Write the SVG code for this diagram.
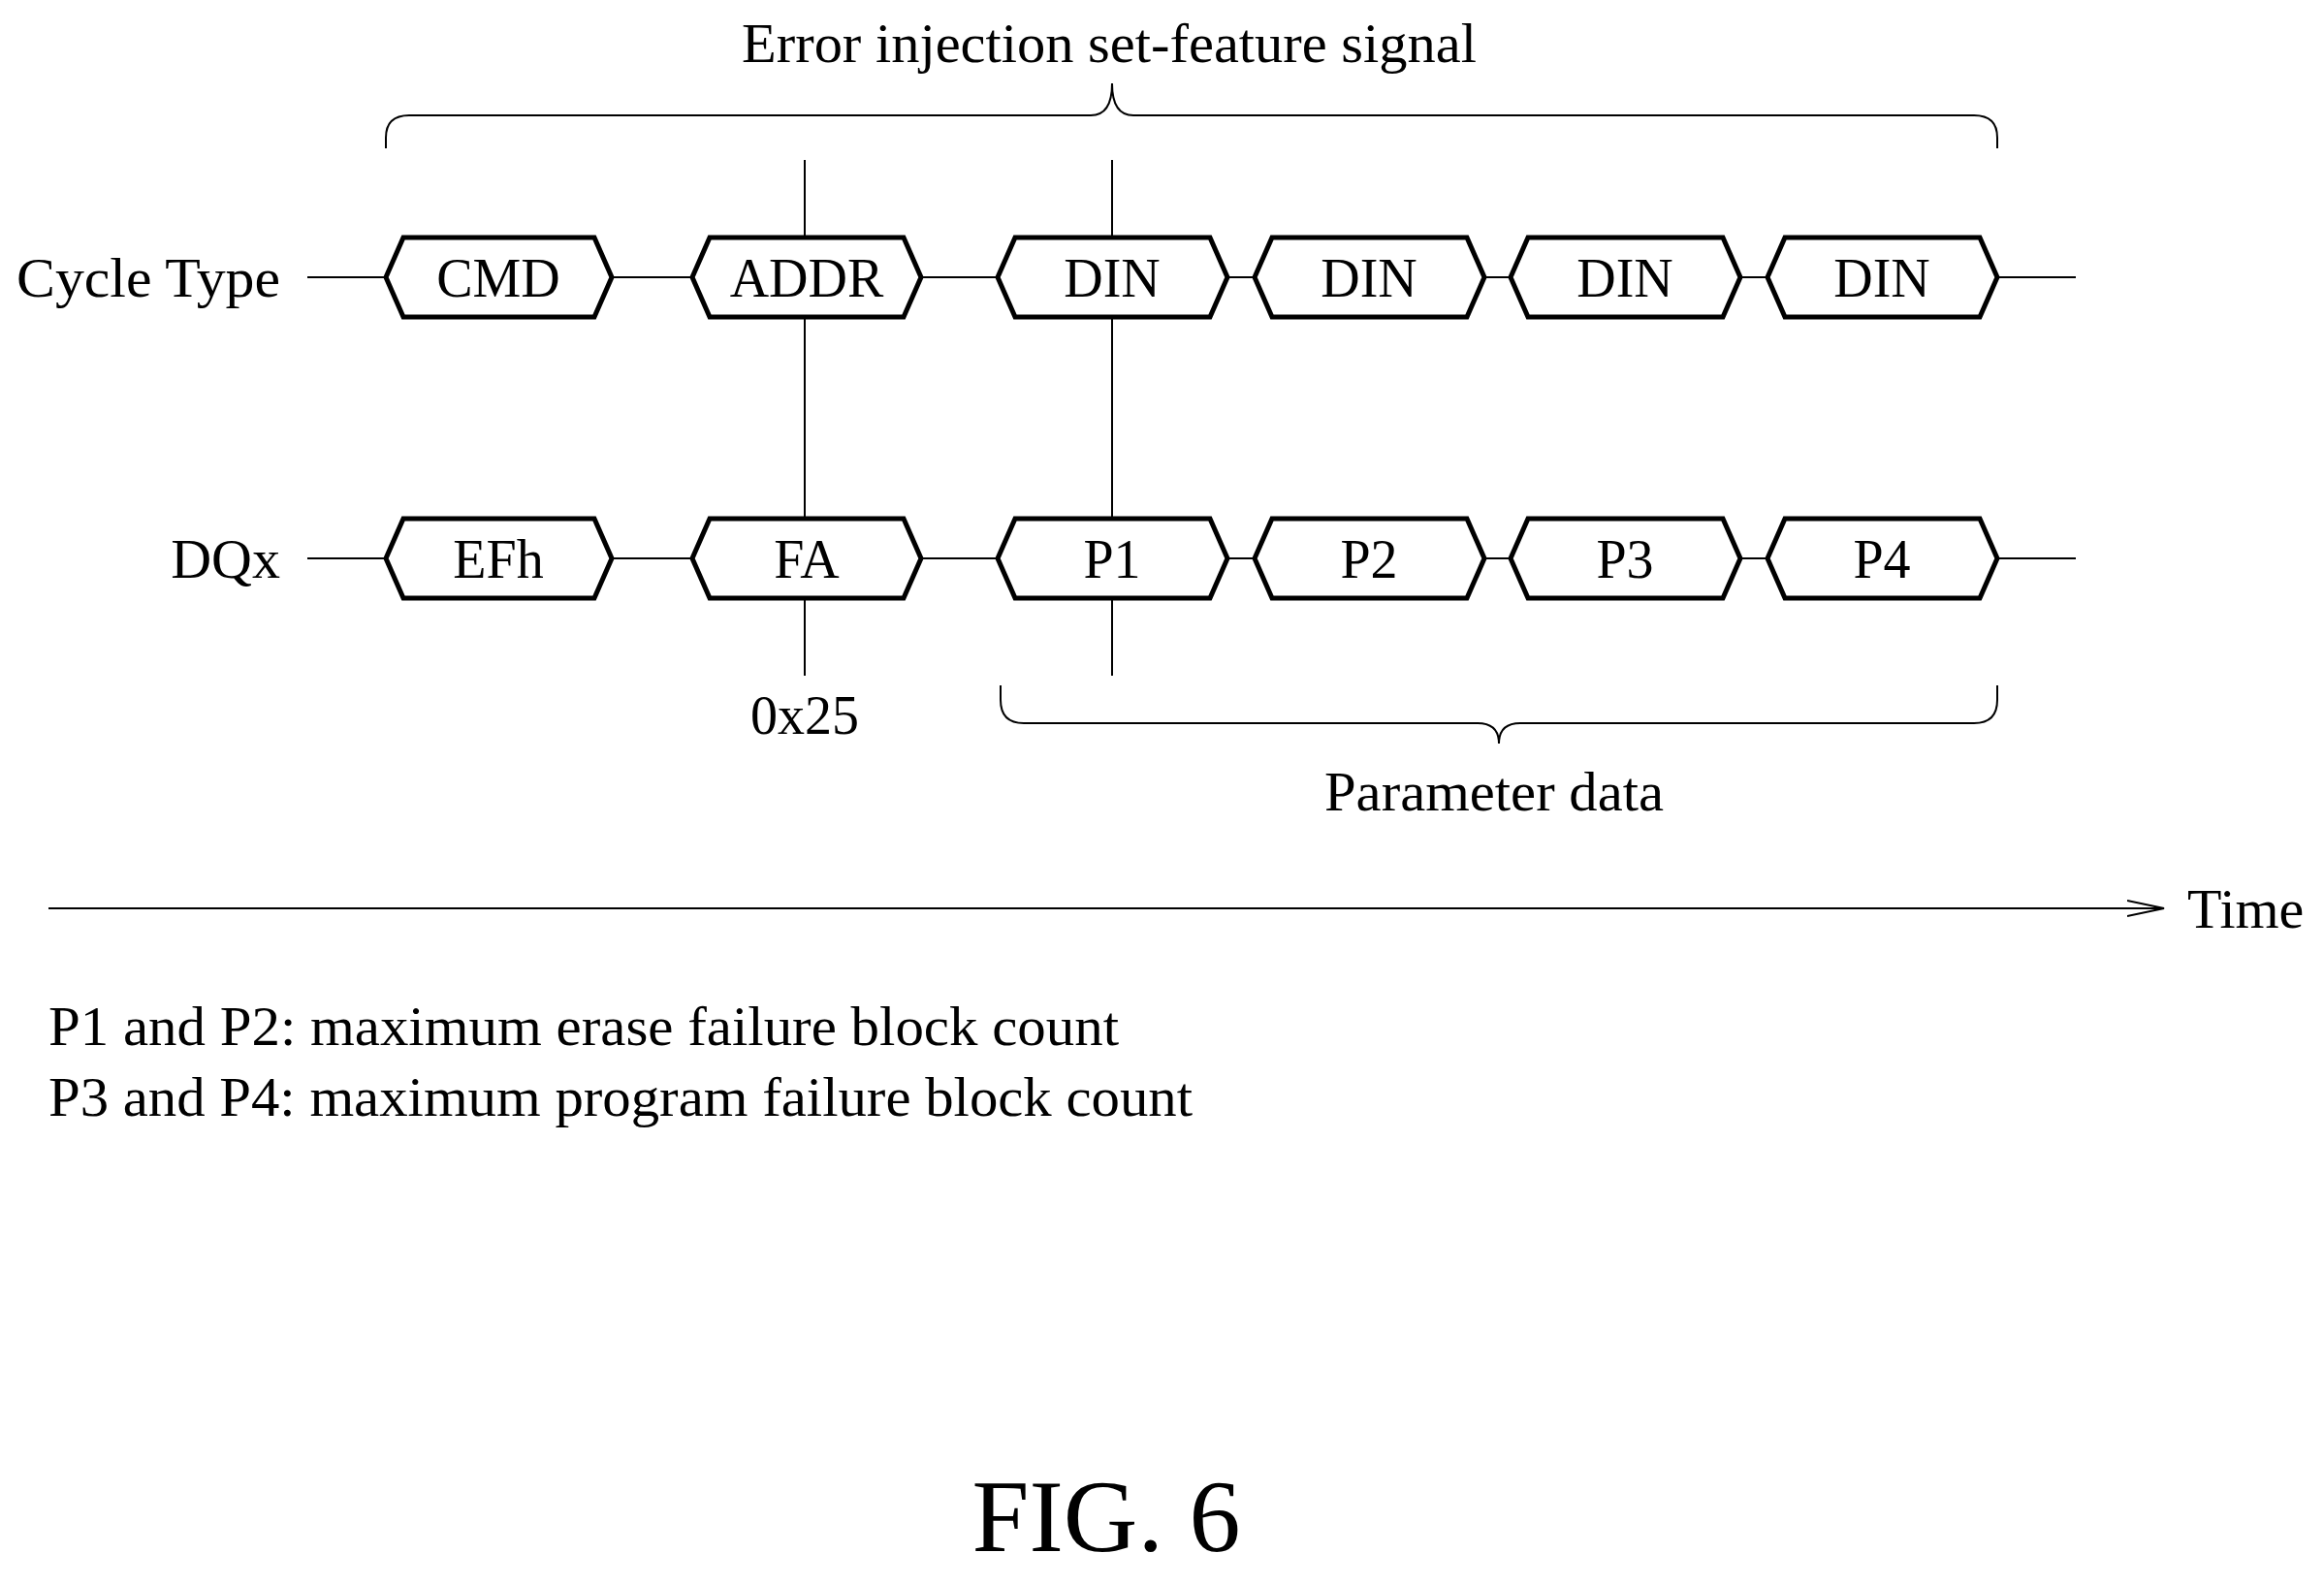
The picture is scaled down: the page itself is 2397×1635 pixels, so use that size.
<svg xmlns="http://www.w3.org/2000/svg" width="2397" height="1635" viewBox="0 0 2397 1635">
<style>
text{font-family:"Liberation Serif",serif;fill:#000}
.t{font-size:56px;text-anchor:middle}
.hex{fill:#fff;stroke:#000;stroke-width:5;stroke-linejoin:miter}
.ln{stroke:#000;stroke-width:2;fill:none}
</style>
<defs>
<marker id="ar" markerWidth="40" markerHeight="20" refX="38" refY="10" orient="auto" markerUnits="userSpaceOnUse">
<path d="M0,2 L38,10 L0,18" fill="none" stroke="#000" stroke-width="2"/>
</marker>
</defs>
<rect width="2397" height="1635" fill="#fff"/>
<text class="t" x="1144" y="64" font-size="60" textLength="758" lengthAdjust="spacingAndGlyphs">Error injection set-feature signal</text>
<g id="connectors">
<path class="ln" d="M398,153 V142 Q398,119 422,119 H1125 Q1147,119 1147,86 Q1147,119 1169,119 H2036 Q2060,119 2060,142 V153"/>
<line class="ln" x1="830" y1="165" x2="830" y2="697"/>
<line class="ln" x1="1147" y1="165" x2="1147" y2="697"/>
<line class="ln" x1="317" y1="286" x2="2141" y2="286"/>
<line class="ln" x1="317" y1="576" x2="2141" y2="576"/>
<path class="ln" d="M1032,707 V722 Q1032,746 1056,746 H1524 Q1546,746 1546,767 Q1546,746 1568,746 H2036 Q2060,746 2060,722 V707"/>
<line class="ln" x1="50" y1="937" x2="2232" y2="937" marker-end="url(#ar)"/>
</g>
<text x="289" y="306" font-size="58" text-anchor="end" textLength="272" lengthAdjust="spacingAndGlyphs">Cycle Type</text>
<text x="289" y="596" font-size="58" text-anchor="end">DQx</text>
<g id="cmd"><path class="hex" d="M398,286 L416,245 H613 L631,286 L613,327 H416Z"/><text class="t" x="514" y="306">CMD</text></g>
<g id="addr"><path class="hex" d="M714,286 L732,245 H932 L950,286 L932,327 H732Z"/><text class="t" x="832" y="306">ADDR</text></g>
<g id="din1"><path class="hex" d="M1029,286 L1047,245 H1248 L1266,286 L1248,327 H1047Z"/><text class="t" x="1147" y="306">DIN</text></g>
<g id="din2"><path class="hex" d="M1294,286 L1312,245 H1513 L1531,286 L1513,327 H1312Z"/><text class="t" x="1412" y="306">DIN</text></g>
<g id="din3"><path class="hex" d="M1558,286 L1576,245 H1777 L1795,286 L1777,327 H1576Z"/><text class="t" x="1676" y="306">DIN</text></g>
<g id="din4"><path class="hex" d="M1823,286 L1841,245 H2042 L2060,286 L2042,327 H1841Z"/><text class="t" x="1941" y="306">DIN</text></g>
<g id="efh"><path class="hex" d="M398,576 L416,535 H613 L631,576 L613,617 H416Z"/><text class="t" x="514" y="596">EFh</text></g>
<g id="fa"><path class="hex" d="M714,576 L732,535 H932 L950,576 L932,617 H732Z"/><text class="t" x="832" y="596">FA</text></g>
<g id="p1"><path class="hex" d="M1029,576 L1047,535 H1248 L1266,576 L1248,617 H1047Z"/><text class="t" x="1147" y="596">P1</text></g>
<g id="p2"><path class="hex" d="M1294,576 L1312,535 H1513 L1531,576 L1513,617 H1312Z"/><text class="t" x="1412" y="596">P2</text></g>
<g id="p3"><path class="hex" d="M1558,576 L1576,535 H1777 L1795,576 L1777,617 H1576Z"/><text class="t" x="1676" y="596">P3</text></g>
<g id="p4"><path class="hex" d="M1823,576 L1841,535 H2042 L2060,576 L2042,617 H1841Z"/><text class="t" x="1941" y="596">P4</text></g>
<text class="t" x="830" y="757">0x25</text>
<text class="t" x="1541" y="836" textLength="350" lengthAdjust="spacingAndGlyphs">Parameter data</text>
<text x="2256" y="957" font-size="58">Time</text>
<text x="50" y="1078" font-size="56" textLength="1104" lengthAdjust="spacingAndGlyphs">P1 and P2: maximum erase failure block count</text>
<text x="50" y="1151" font-size="56" textLength="1180" lengthAdjust="spacingAndGlyphs">P3 and P4: maximum program failure block count</text>
<text x="1141" y="1600" font-size="106" text-anchor="middle">FIG. 6</text>
</svg>
